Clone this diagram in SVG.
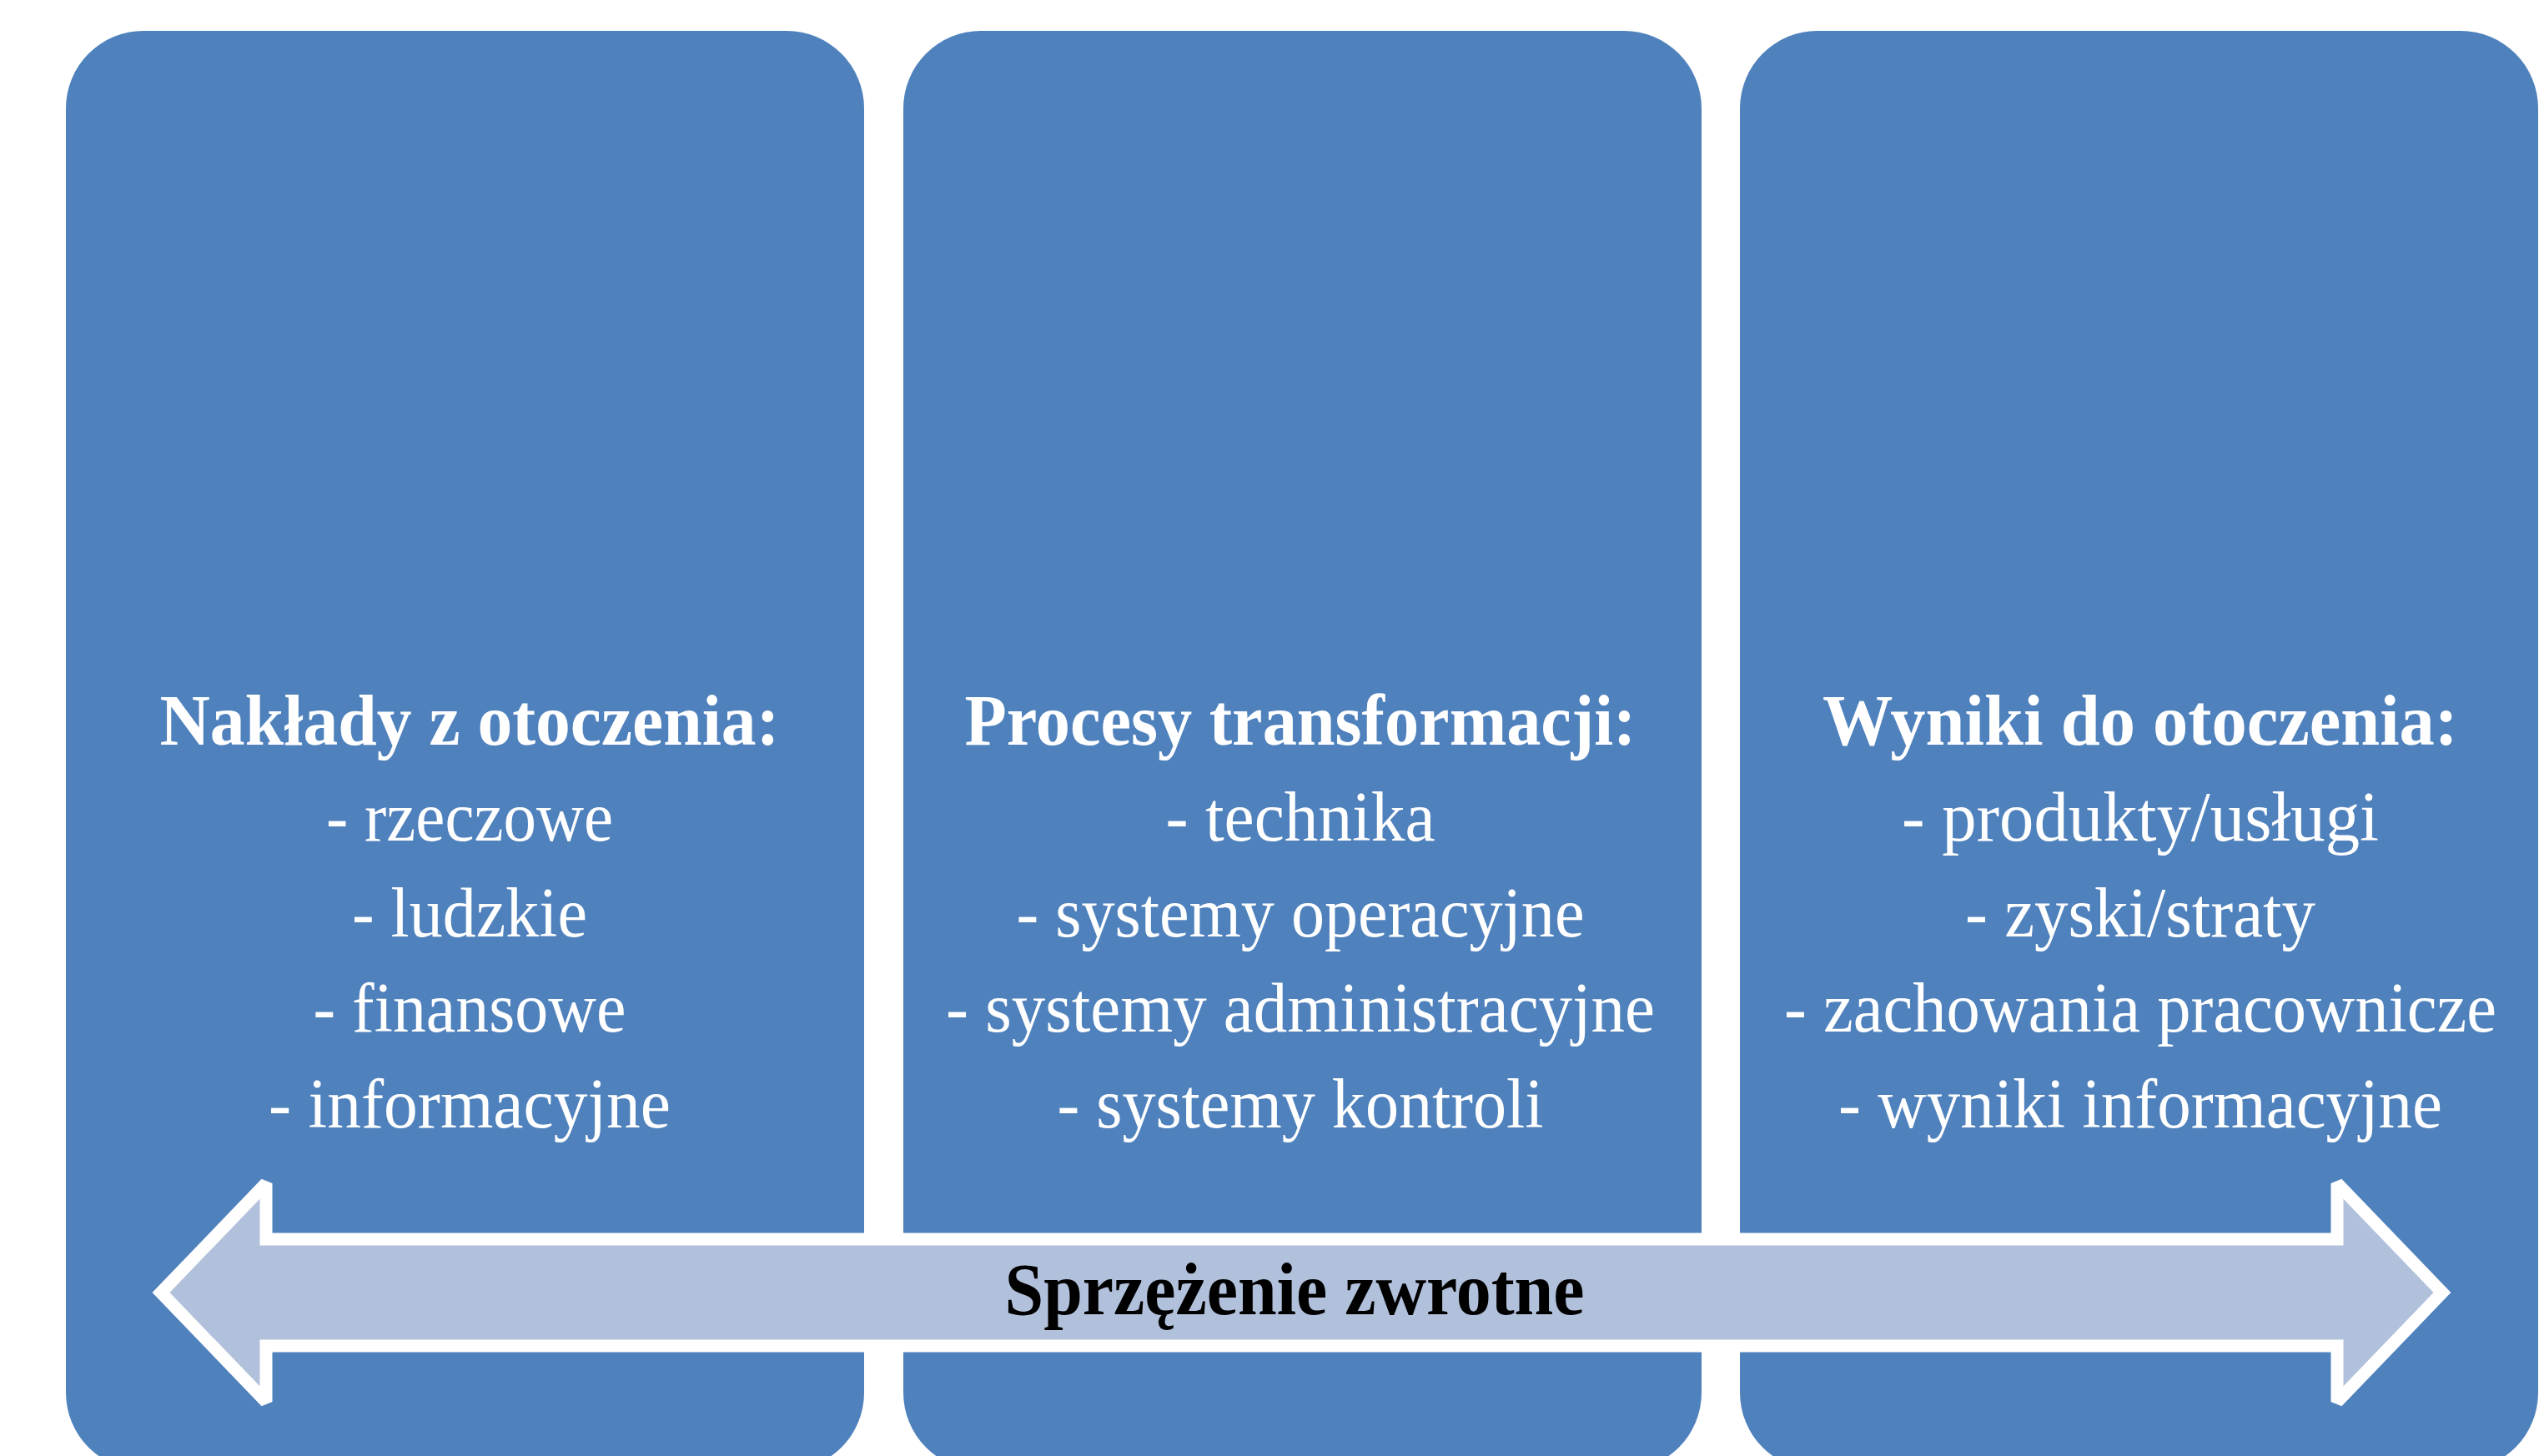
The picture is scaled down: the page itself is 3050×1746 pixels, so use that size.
<svg xmlns="http://www.w3.org/2000/svg" width="3050" height="1746" viewBox="0 0 3050 1746">
<style>
.box{fill:#4F81BD;}
.t{font-family:"Liberation Serif","Times New Roman",serif;fill:#FFFFFF;text-anchor:middle;}
.h{font-size:86px;font-weight:bold;}
.r{font-size:84px;}
.arrow{fill:#B2C1DB;stroke:#FFFFFF;stroke-width:15;stroke-linejoin:miter;stroke-miterlimit:2;}
.lbl{font-family:"Liberation Serif","Times New Roman",serif;font-size:88px;font-weight:bold;fill:#000000;text-anchor:middle;}
</style>
<rect width="3050" height="1746" fill="#FFFFFF"/>
<g id="node-inputs">
<rect class="box" x="79" y="37" width="957" height="1726" rx="93" ry="93"/>
<text class="t h" x="563" y="893" textLength="743" lengthAdjust="spacingAndGlyphs">Nakłady z otoczenia:</text>
<text class="t r" x="563" y="1008" textLength="344" lengthAdjust="spacingAndGlyphs">- rzeczowe</text>
<text class="t r" x="563" y="1123" textLength="282" lengthAdjust="spacingAndGlyphs">- ludzkie</text>
<text class="t r" x="563" y="1237" textLength="375" lengthAdjust="spacingAndGlyphs">- finansowe</text>
<text class="t r" x="563" y="1352" textLength="482" lengthAdjust="spacingAndGlyphs">- informacyjne</text>
</g>
<g id="node-processes">
<rect class="box" x="1083" y="37" width="957" height="1726" rx="93" ry="93"/>
<text class="t h" x="1559" y="893" textLength="805" lengthAdjust="spacingAndGlyphs">Procesy transformacji:</text>
<text class="t r" x="1559" y="1008" textLength="323" lengthAdjust="spacingAndGlyphs">- technika</text>
<text class="t r" x="1559" y="1123" textLength="681" lengthAdjust="spacingAndGlyphs">- systemy operacyjne</text>
<text class="t r" x="1559" y="1237" textLength="850" lengthAdjust="spacingAndGlyphs">- systemy administracyjne</text>
<text class="t r" x="1559" y="1352" textLength="583" lengthAdjust="spacingAndGlyphs">- systemy kontroli</text>
</g>
<g id="node-outputs">
<rect class="box" x="2086" y="37" width="957" height="1726" rx="93" ry="93"/>
<text class="t h" x="2566" y="893" textLength="762" lengthAdjust="spacingAndGlyphs">Wyniki do otoczenia:</text>
<text class="t r" x="2566" y="1008" textLength="572" lengthAdjust="spacingAndGlyphs">- produkty/usługi</text>
<text class="t r" x="2566" y="1123" textLength="420" lengthAdjust="spacingAndGlyphs">- zyski/straty</text>
<text class="t r" x="2566" y="1237" textLength="854" lengthAdjust="spacingAndGlyphs">- zachowania pracownicze</text>
<text class="t r" x="2566" y="1352" textLength="724" lengthAdjust="spacingAndGlyphs">- wyniki informacyjne</text>
</g>
<g id="connectors">
<g id="feedback-arrow">
<path class="arrow" d="M193,1550 L319,1419 L319,1486 L2802,1486 L2802,1419 L2928,1550 L2802,1681 L2802,1614 L319,1614 L319,1681 Z"/>
<text class="lbl" x="1552" y="1576" textLength="695" lengthAdjust="spacingAndGlyphs">Sprzężenie zwrotne</text>
</g>
</g>
</svg>
